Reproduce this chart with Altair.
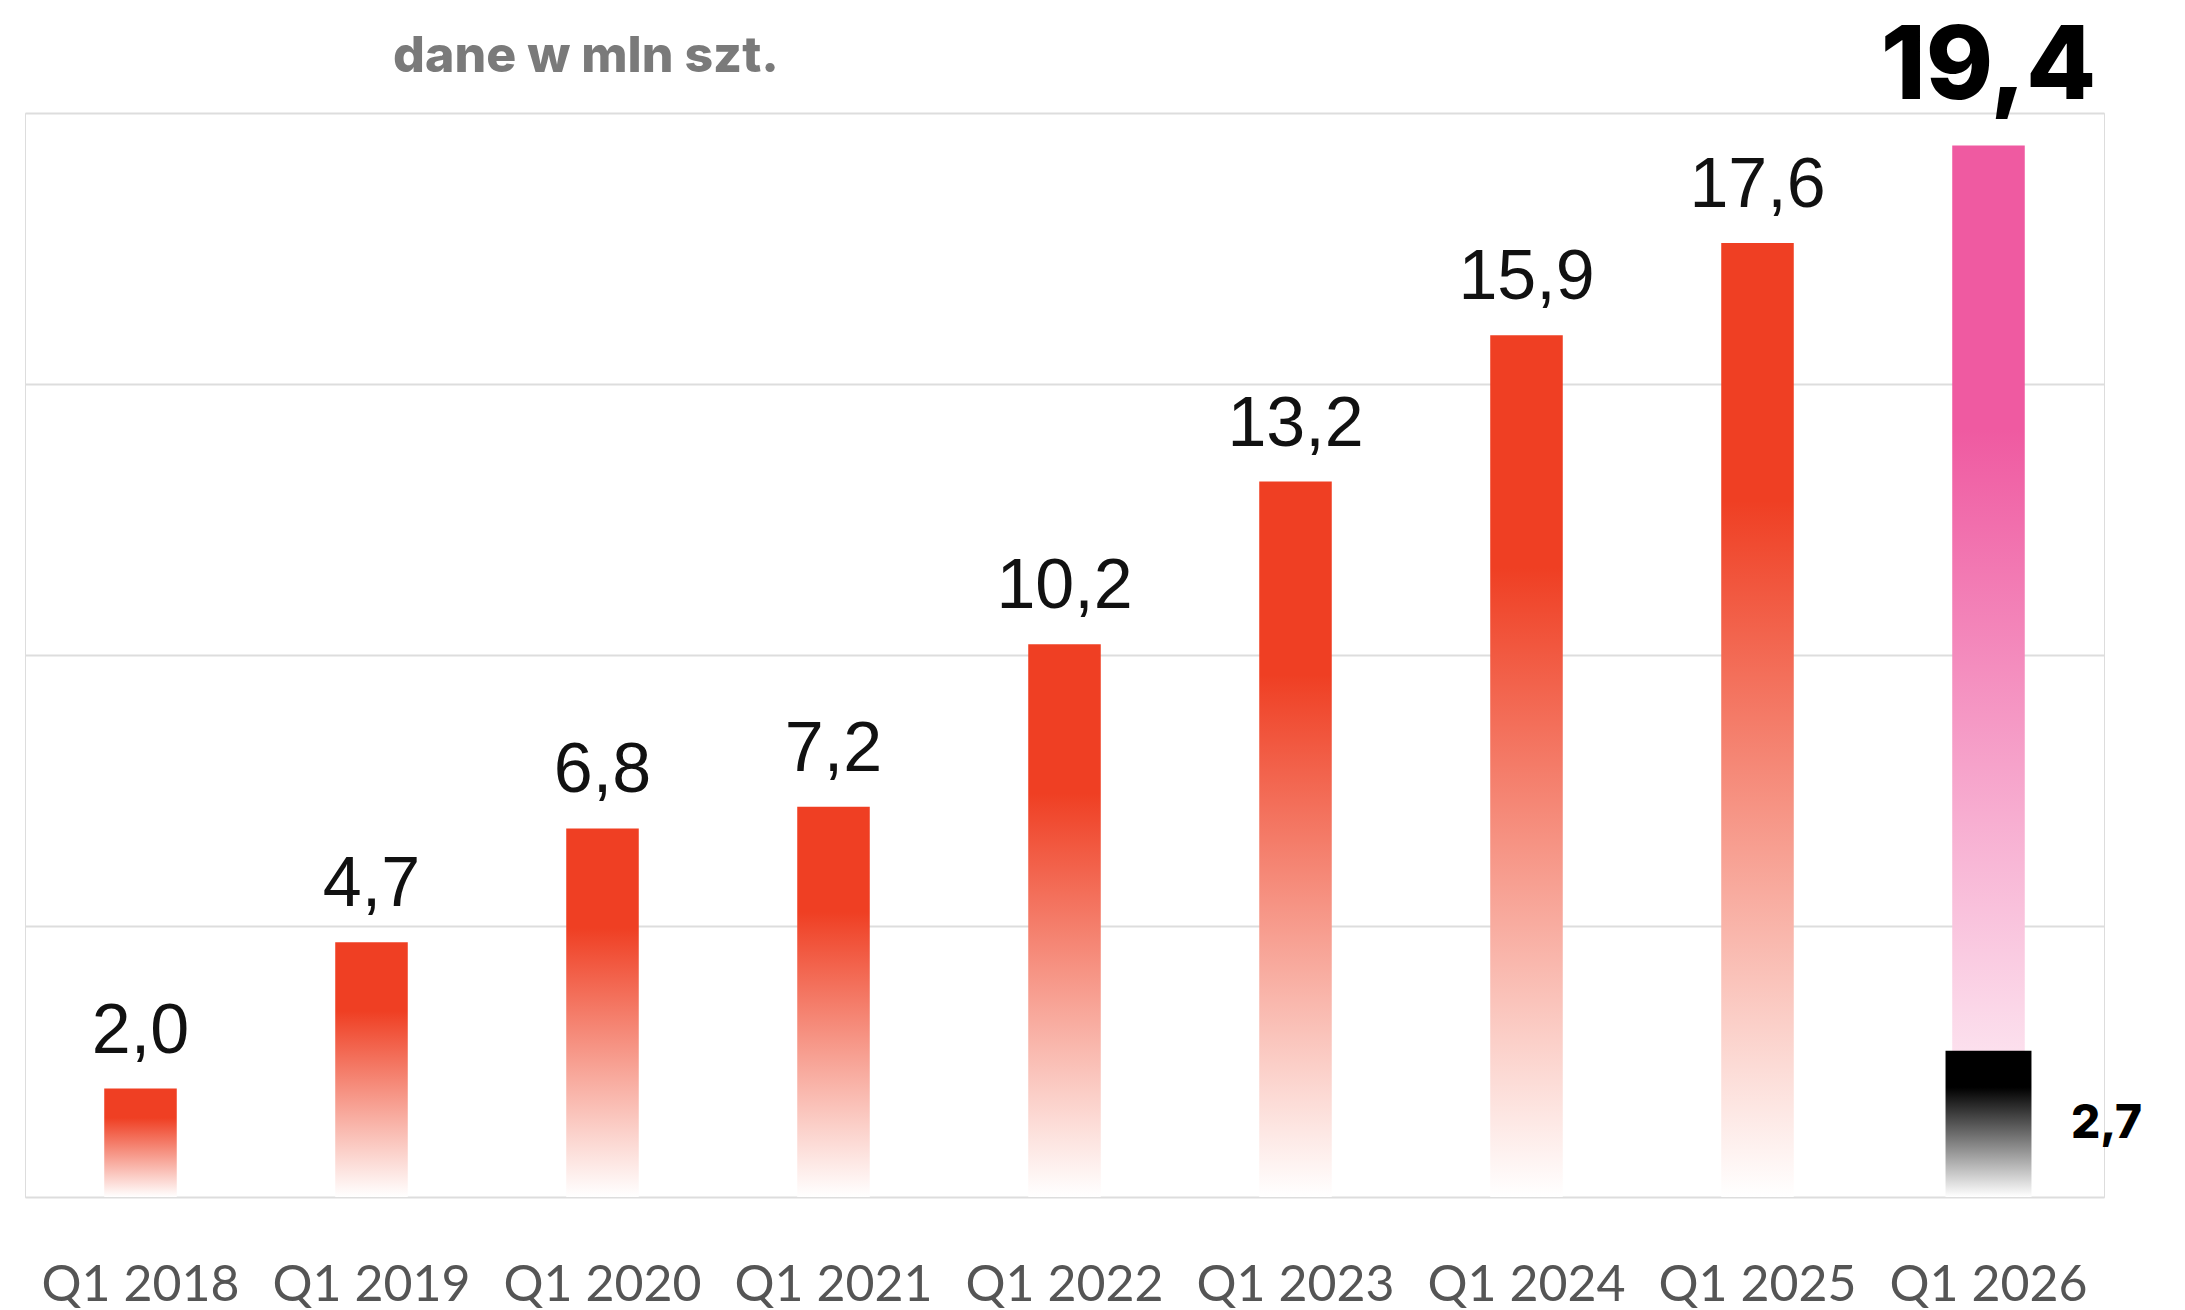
import altair as alt
import pandas as pd

# Quarterly volumes, millions of units
quarters = ["Q1 2018", "Q1 2019", "Q1 2020", "Q1 2021", "Q1 2022",
            "Q1 2023", "Q1 2024", "Q1 2025", "Q1 2026"]
units = [2.0, 4.7, 6.8, 7.2, 10.2, 13.2, 15.9, 17.6, 19.4]

# Sub-total shown inside the latest quarter's bar
latest_quarter = "Q1 2026"
latest_part = [2.7]

unit_note = "dane w mln szt."
grid_values = [0, 5, 10, 15, 20]

RED = "#EF3F23"
PINK = "#EF5AA1"
BLACK = "#000000"


def pl_number(v):
    return f"{v:.1f}".replace(".", ",")


bars = pd.DataFrame({"q": quarters, "v": units})
bars["label"] = bars["v"].map(pl_number)
bars["latest"] = bars["q"] == latest_quarter

part = pd.DataFrame({"q": [latest_quarter], "v": latest_part})
part["label"] = part["v"].map(pl_number)


def fade(color, solid):
    """Vertical gradient: solid colour on top, fading to white at the base."""
    return alt.Gradient(
        gradient="linear", x1=0, x2=0, y1=0, y2=1,
        stops=[
            alt.GradientStop(color=color, offset=0),
            alt.GradientStop(color=color, offset=solid),
            alt.GradientStop(color="#ffffff", offset=1),
        ],
    )


x = alt.X(
    "q:N", sort=quarters,
    scale=alt.Scale(paddingInner=0, paddingOuter=0),
    axis=alt.Axis(
        title=None, labelAngle=0, labelFont="Lato", labelFontSize=50,
        labelColor="#555555", labelBaseline="alphabetic", labelPadding=103,
        labelLimit=0, ticks=False, domain=False, grid=False,
    ),
)
y = alt.Y(
    "v:Q",
    scale=alt.Scale(domain=[0, 20], nice=False, zero=True),
    axis=alt.Axis(
        title=None, values=grid_values, labels=False, ticks=False,
        domain=False, grid=True, gridColor="#dddddd", gridWidth=2,
    ),
)

past = alt.FieldEqualPredicate(field="latest", equal=False)
now = alt.FieldEqualPredicate(field="latest", equal=True)

base = alt.Chart(bars).encode(x=x, y=y)

past_bars = base.transform_filter(past).mark_bar(
    color=fade(RED, 0.27), width=alt.RelativeBandSize(0.314)
)
latest_bar = base.transform_filter(now).mark_bar(
    color=fade(PINK, 0.27), width=alt.RelativeBandSize(0.314)
)

past_labels = base.transform_filter(past).mark_text(
    font="Liberation Sans", fontSize=70, baseline="alphabetic", dy=-36,
    color="#111111",
).encode(text="label:N")

latest_label = base.transform_filter(now).mark_text(
    font="Inter", fontSize=102, fontWeight=800, baseline="alphabetic", dy=-47,
    color="#000000",
).encode(text="label:N")

part_base = alt.Chart(part).encode(x=x)
part_bar = part_base.mark_bar(
    color=fade(BLACK, 0.25), width=alt.RelativeBandSize(0.372)
).encode(y=y)
part_label = part_base.transform_calculate(mid="datum.v / 2").mark_text(
    font="Inter", fontSize=46, fontWeight=800, baseline="middle", dx=118,
    color="#000000",
).encode(y=alt.Y("mid:Q"), text="label:N")

# Unit note above the plot, left of centre
note = alt.Chart(pd.DataFrame({"t": [unit_note]})).mark_text(
    font="Inter", fontSize=50, fontWeight=800, color="#7a7a7a",
    align="center", baseline="alphabetic",
).encode(x=alt.value(561), y=alt.value(-41), text="t:N")

chart = alt.layer(
    past_bars, latest_bar, past_labels, latest_label, part_bar, part_label,
    note,
).properties(
    width=2079,
    height=1084,
    autosize=alt.AutoSizeParams(type="none"),
    padding={"left": 25, "top": 113, "right": 81, "bottom": 113},
).configure_view(strokeWidth=0, stroke="transparent").configure(
    background="#ffffff"
)

chart.save("out.html", embed_options={"renderer": "svg", "actions": False})
